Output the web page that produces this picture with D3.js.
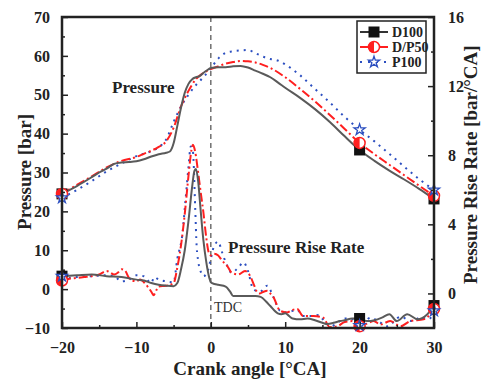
<!DOCTYPE html>
<html><head><meta charset="utf-8">
<script src="https://cdn.jsdelivr.net/npm/d3@7/dist/d3.min.js"></script>
<style>body{margin:0;background:#fff}svg{display:block}</style>
</head><body><svg id="c" width="481" height="383"></svg>
<script>
// ---------- DATA ----------
const xTicks = [-20, -10, 0, 10, 20, 30];
const leftTicks = [-10, 0, 10, 20, 30, 40, 50, 60, 70];
const rightTicks = [0, 4, 8, 12, 16];
const seriesNames = ["D100", "D/P50", "P100"];
const markerAngles = [-20, 20, 30];

// Cylinder pressure [bar]
const d100PAngle = [-20,-18,-16,-15,-14,-13,-12,-11,-10,-9,-8,-7,-6,-5.5,-5,-4.5,-4,-3.5,-3,-2.5,-2,-1.5,-1,-0.5,0,1,2,3,4,5,6,7,8,9,10,12,14,16,18,20,22,24,26,28,30];
const d100P = [24.5,26.5,28.8,30,31,32.2,32.6,32.7,32.9,33.4,34.1,34.7,35.1,35.4,37.5,42,46.7,50.5,52.8,54,54.5,54.8,55.6,56.3,56.9,57.1,57.1,57.3,57.4,57,56.2,55.4,54.5,53.2,51.8,49.2,46.3,43,39.3,35.8,33,30.5,28.2,25.8,23.2];
const dp50PAngle = [-20,-18,-16,-14,-12,-10,-9,-8,-7,-6,-5,-4,-3,-2,-1,0,1,2,3,4,5,6,7,8,10,12,14,16,18,20,22,24,26,28,30];
const dp50P = [24.5,26.8,29,31.3,33,34,34.8,35.6,36.6,38,41.5,47,51,54,55.6,56.6,57.3,58,58.4,58.7,58.6,58.3,57.7,56.9,54.5,51.5,48.3,44.8,41.2,37.6,34.7,32,29.3,26.6,24];
const p100PAngle = [-20,-18,-16,-14,-12,-10,-8,-7,-6,-5,-4,-3,-2,-1,0,1,2,3,4,5,6,7,8,9,10,11,12,14,16,18,20,22,24,26,28,30];
const p100P = [23.5,25.5,27.8,30.3,32.3,34.2,35.5,36.5,38.5,43,47,50,52.5,54.5,56.8,59.3,60.8,61.2,61.4,61.5,60.7,59.8,59.2,58.8,57.8,56.5,55,51.5,48,44.3,41,38,34.8,31.5,28.3,25.5];

// Pressure rise rate [bar/°CA]
const d100RAngle = [-20,-18,-16,-14,-12,-10,-9,-8,-7,-6,-5,-4.5,-4,-3.5,-3,-2.5,-2.2,-2,-1.7,-1.4,-1,-0.6,-0.2,0,0.5,1,2,2.6,3,4,5,6,6.7,7.5,8,9,9.5,10,10.5,11,12,13,14,15,15.7,16.5,17.4,18,19,20,21,22,23,24,25,26.4,27.8,29,30];
const d100R = [1.0,1.05,1.1,1.0,0.95,0.8,0.75,0.6,0.5,0.45,0.42,0.6,1.4,2.5,4.2,6.2,7.1,7.2,6.5,5.0,3.1,1.8,0.9,0.65,0.55,0.5,0.4,0.1,-0.15,-0.15,-0.15,-0.15,-0.2,-0.5,-0.73,-1.15,-1.2,-1.15,-1.3,-1.45,-1.5,-1.45,-1.55,-1.7,-1.77,-1.7,-1.6,-1.55,-1.45,-1.45,-1.6,-1.55,-1.4,-1.2,-1.6,-1.2,-1.5,-1.25,-0.7];
const dp50RAngle = [-20,-19,-18,-17,-16,-15,-14,-13.5,-13,-12.5,-12,-11.5,-11,-10.5,-10,-9.5,-9,-8.5,-8,-7.7,-7.3,-7,-6,-5,-4.5,-4,-3.5,-3,-2.6,-2.4,-2.1,-1.7,-1.4,-1,-0.6,-0.3,0,0.4,1,1.5,2.2,2.8,3.7,4.6,5.3,5.8,6.2,6.6,7.1,7.6,8,8.4,9.3,10.2,11,11.6,12.4,13.8,15.1,16,17,18,19,20,21,21.9,22.8,24.1,25.5,26.8,28.6,29.5,30];
const dp50R = [0.75,0.85,0.9,0.95,1.0,1.1,1.3,1.2,1.1,1.2,1.4,1.3,0.9,0.75,0.7,0.8,0.65,0.4,0.1,-0.1,0.2,0.4,0.45,0.6,1.5,2.8,4.6,6.8,8.3,8.6,8.2,7.0,6.0,4.7,3.2,2.4,2.2,2.3,2.2,1.9,1.6,1.2,1.1,1.3,1.0,0.5,0.1,0.0,0.1,0.15,0.0,-0.2,-1.0,-1.1,-0.95,-0.9,-1.3,-1.3,-1.4,-1.95,-1.9,-1.65,-1.6,-1.9,-1.75,-1.6,-1.8,-1.6,-1.9,-1.6,-1.5,-1.2,-0.9];
const p100RAngle = [-20,-19,-18,-16,-14,-13,-12,-11,-10,-9,-8,-7.6,-7,-6,-5,-4.5,-3.8,-3.4,-3,-2.7,-2.4,-2.1,-1.9,-1.7,-1.3,-1,-0.5,0,0.4,1,1.5,2.2,2.8,3.7,4.4,5,5.7,6.6,7.6,8.4,9.3,10.2,11.6,12.4,13.8,14.5,15.4,16.2,17,18,19.1,20,21.5,22.5,23.7,25.5,27,28.2,29.3,30];
const p100R = [1.0,0.9,0.95,1.0,1.05,1.0,0.7,0.8,1.05,1.0,0.6,0.95,0.8,0.7,0.65,2.0,3.5,5.4,7.3,8.5,8.2,5.0,2.7,1.9,1.2,1.0,1.2,2.0,2.7,3.0,2.4,1.6,1.2,1.5,1.8,1.3,0.25,0.1,0.45,-0.2,-1.0,-1.1,-0.95,-1.3,-1.3,-1.25,-1.7,-1.9,-1.7,-1.45,-1.5,-1.85,-1.4,-1.6,-1.9,-1.35,-1.6,-1.4,-1.5,-1.0];

// ---------- LAYOUT ----------
const svg = d3.select("#c");
const L = 62, R = 434, T = 17, B = 328;
const x = d3.scaleLinear().domain([-20, 30]).range([L, R]);
const yL = d3.scaleLinear().domain([-10, 70]).range([B, T]);
const yR = d3.scaleLinear().domain([-2, 16]).range([B, T]);
const font = "'Liberation Serif','Times New Roman',serif";

const colors = {D100: "#5a5a5a", "D/P50": "#ff1f1f", P100: "#2c4fc0"};
const dashes = {D100: null, "D/P50": "9,3,2,3", P100: "2,5"};

svg.append("defs").append("clipPath").attr("id", "clip")
  .append("rect").attr("x", L).attr("y", T).attr("width", R - L).attr("height", B - T);

// dashed TDC line
svg.append("line").attr("x1", x(0)).attr("x2", x(0)).attr("y1", T).attr("y2", B)
  .attr("stroke", "#707070").attr("stroke-width", 1.5).attr("stroke-dasharray", "5,4");

function zip(a, v) { return a.map((d, i) => [d, v[i]]); }
const lineL = d3.line().curve(d3.curveMonotoneX).x(d => x(d[0])).y(d => yL(d[1]));
const lineR = d3.line().curve(d3.curveMonotoneX).x(d => x(d[0])).y(d => yR(d[1]));

const series = [
  {name: "D100", p: zip(d100PAngle, d100P), r: zip(d100RAngle, d100R)},
  {name: "D/P50", p: zip(dp50PAngle, dp50P), r: zip(dp50RAngle, dp50R)},
  {name: "P100", p: zip(p100PAngle, p100P), r: zip(p100RAngle, p100R)}
];

const g = svg.append("g").attr("clip-path", "url(#clip)");
series.slice().reverse().forEach(s => {
  [[s.p, lineL], [s.r, lineR]].forEach(([data, ln]) => {
    g.append("path").attr("d", ln(data)).attr("fill", "none")
      .attr("stroke", colors[s.name]).attr("stroke-width", 2)
      .attr("stroke-dasharray", dashes[s.name]);
  });
});

function interp(data, a) {
  const xs = data.map(d => d[0]), ys = data.map(d => d[1]);
  const i = d3.bisectLeft(xs, a);
  if (xs[i] === a) return ys[i];
  const t = (a - xs[i - 1]) / (xs[i] - xs[i - 1]);
  return ys[i - 1] + t * (ys[i] - ys[i - 1]);
}

function drawMarker(sel, name, cx, cy) {
  if (name === "D100") {
    sel.append("rect").attr("x", cx - 5.5).attr("y", cy - 5.5).attr("width", 11).attr("height", 11).attr("fill", "#111");
  } else if (name === "D/P50") {
    sel.append("circle").attr("cx", cx).attr("cy", cy).attr("r", 5.5).attr("fill", "#fff").attr("stroke", colors[name]).attr("stroke-width", 1.5);
    sel.append("path").attr("d", `M${cx},${cy - 5.5}A5.5,5.5 0 0 0 ${cx},${cy + 5.5}Z`).attr("fill", colors[name]);
  } else {
    sel.append("path").attr("d", d3.symbol(d3.symbolStar, 38)()).attr("transform", `translate(${cx},${cy})`)
      .attr("fill", "#fff").attr("stroke", colors[name]).attr("stroke-width", 1.3);
  }
}

const mg = svg.append("g");
series.forEach(s => {
  markerAngles.forEach(a => {
    drawMarker(mg, s.name, x(a), yL(interp(s.p, a)));
    drawMarker(mg, s.name, x(a), yR(interp(s.r, a)));
  });
});

// ---------- AXES ----------
const axStyle = sel => {
  sel.selectAll(".domain").remove();
  sel.selectAll("text").attr("font-family", font).attr("font-weight", "bold").attr("font-size", 16).attr("fill", "#222");
  sel.selectAll("line").attr("stroke", "#222").attr("stroke-width", 1.5);
};
svg.append("g").attr("transform", `translate(0,${B})`)
  .call(d3.axisBottom(x).tickValues(xTicks).tickSize(-6).tickPadding(14).tickFormat(d3.format("d")))
  .call(axStyle);
svg.append("g").attr("transform", `translate(0,${B})`)
  .call(d3.axisBottom(x).tickValues(d3.range(-15, 30, 10)).tickSize(-3).tickFormat(""))
  .call(axStyle);
svg.append("g").attr("transform", `translate(${L},0)`)
  .call(d3.axisLeft(yL).tickValues(leftTicks).tickSize(-6).tickPadding(12).tickFormat(d3.format("d")))
  .call(axStyle);
svg.append("g").attr("transform", `translate(${L},0)`)
  .call(d3.axisLeft(yL).tickValues(d3.range(-5, 70, 10)).tickSize(-3).tickFormat(""))
  .call(axStyle);
svg.append("g").attr("transform", `translate(${R},0)`)
  .call(d3.axisRight(yR).tickValues(rightTicks).tickSize(-6).tickPadding(14).tickFormat(d3.format("d")))
  .call(axStyle);
svg.append("g").attr("transform", `translate(${R},0)`)
  .call(d3.axisRight(yR).tickValues([2, 6, 10, 14]).tickSize(-3).tickFormat(""))
  .call(axStyle);

svg.append("rect").attr("x", L).attr("y", T).attr("width", R - L).attr("height", B - T)
  .attr("fill", "none").attr("stroke", "#222").attr("stroke-width", 2.5);

// ---------- TITLES ----------
svg.append("text").attr("x", (L + R) / 2 + 2).attr("y", 375).attr("text-anchor", "middle")
  .attr("font-family", font).attr("font-weight", "bold").attr("font-size", 19).attr("fill", "#222")
  .text("Crank angle [°CA]");
svg.append("text").attr("transform", "translate(31,172) rotate(-90)").attr("text-anchor", "middle")
  .attr("font-family", font).attr("font-weight", "bold").attr("font-size", 19).attr("fill", "#222")
  .text("Pressure [bar]");
svg.append("text").attr("transform", "translate(477,284) rotate(-90)").attr("text-anchor", "start")
  .attr("font-family", font).attr("font-weight", "bold").attr("font-size", 19).attr("fill", "#222")
  .text("Pressure Rise Rate [bar/°CA]");

svg.append("text").attr("x", 112).attr("y", 93).attr("font-family", font).attr("font-weight", "bold")
  .attr("font-size", 17).attr("fill", "#222").text("Pressure");
svg.append("text").attr("x", 228).attr("y", 253).attr("font-family", font).attr("font-weight", "bold")
  .attr("font-size", 17).attr("fill", "#222").text("Pressure Rise Rate");
svg.append("text").attr("x", 214).attr("y", 312).attr("font-family", font)
  .attr("font-size", 14).attr("fill", "#333").text("TDC");

// ---------- LEGEND ----------
const lg = svg.append("g");
lg.append("rect").attr("x", 357).attr("y", 21).attr("width", 69).attr("height", 52)
  .attr("fill", "#fff").attr("stroke", "#222").attr("stroke-width", 1.5);
seriesNames.forEach((n, i) => {
  const yy = 32 + i * 15;
  lg.append("line").attr("x1", 360).attr("x2", 388).attr("y1", yy).attr("y2", yy)
    .attr("stroke", n === "D100" ? "#333" : colors[n]).attr("stroke-width", 2)
    .attr("stroke-dasharray", n === "P100" ? "2,6" : null);
  drawMarker(lg, n, 374, yy);
  lg.append("text").attr("x", 392).attr("y", yy + 5).attr("font-family", font).attr("font-weight", "bold")
    .attr("font-size", 14).attr("fill", "#222").text(n);
});
</script></body></html>
